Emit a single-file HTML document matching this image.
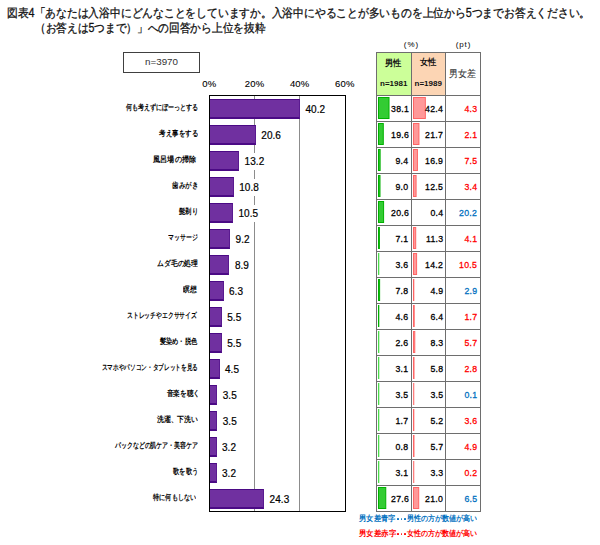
<!DOCTYPE html><html><head><meta charset="utf-8"><style>
*{margin:0;padding:0;box-sizing:border-box}
html,body{width:600px;height:545px;background:#fff;overflow:hidden;position:relative;font-family:"Liberation Sans",sans-serif}
.a{position:absolute;white-space:nowrap}
.fit{position:absolute;white-space:nowrap}
.ttl{font-size:12px;color:#111;line-height:14px;-webkit-text-stroke:0.3px #111}
.lbl{font-size:7.5px;font-weight:bold;color:#000;line-height:10px}
.val{font-size:10px;color:#000;line-height:17px;height:17px;background:#fff;padding:0 2px;letter-spacing:0.05px;-webkit-text-stroke:0.2px #000}
.ax{font-size:9.5px;color:#000;line-height:12px;-webkit-text-stroke:0.1px #000;letter-spacing:0.2px;text-indent:0.2px}
.bar{position:absolute;background:#7030a0;border-top:1px solid #4b0a85;border-bottom:2px solid #4b0a85;border-right:1px solid #5a1a90}
.grid{position:absolute;top:96px;height:415px;width:1px;background:#8c8c8c}
.tv{font-size:9.7px;color:#000;line-height:12px;text-align:right;letter-spacing:0.3px;margin-right:-0.3px;-webkit-text-stroke:0.3px currentColor;transform:scaleX(0.9);transform-origin:100% 50%}
.hl{position:absolute;background:#6e6e6e}
.gb{position:absolute;background:#33cc33;border:1px solid #00b400}
.pb{position:absolute;background:#ff9999;border:1px solid #ff6666}
.hd{font-size:8.5px;font-weight:bold;line-height:10px;color:#111}
.lg{font-size:8px;font-weight:bold;line-height:10px}
</style></head><body>
<div class="fit ttl" style="left:6.80px;top:6.30px;">図表4「あなたは入浴中にどんなことをしていますか。入浴中にやることが多いものを上位から5つまでお答えください。</div>
<div class="fit ttl" style="left:35.10px;top:21.40px;">（お答えは5つまで）」への回答から上位を抜粋</div>
<div class="a bgx" style="left:123px;top:52px;width:77px;height:21px;border:1px solid #404040"></div>
<div class="a" style="left:123px;top:55.5px;width:77px;text-align:center;font-size:9.8px;color:#333;line-height:12px">n=3970</div>
<div class="grid" style="left:253.9px"></div>
<div class="grid" style="left:299.1px"></div>
<div class="a ax" style="left:189.3px;top:77.5px;width:40px;text-align:center">0%</div>
<div class="a ax" style="left:234.4px;top:77.5px;width:40px;text-align:center">20%</div>
<div class="a ax" style="left:279.6px;top:77.5px;width:40px;text-align:center">40%</div>
<div class="a ax" style="left:324.7px;top:77.5px;width:40px;text-align:center">60%</div>
<div class="a bgx" style="left:208.5px;top:95px;width:137px;height:417px;border:1.5px solid #000"></div>
<div class="bar" style="left:209.5px;top:99.0px;width:90.5px;height:20px"></div>
<div class="a val" style="left:303.5px;top:101.0px">40.2</div>
<div class="fit lbl" style="right:402.50px;top:103.30px;">何も考えずにぼーっとする</div>
<div class="bar" style="left:209.5px;top:125.0px;width:46.3px;height:20px"></div>
<div class="a val" style="left:259.3px;top:127.0px">20.6</div>
<div class="fit lbl" style="right:402.50px;top:129.30px;">考え事をする</div>
<div class="bar" style="left:209.5px;top:151.0px;width:29.6px;height:20px"></div>
<div class="a val" style="left:242.6px;top:153.0px">13.2</div>
<div class="fit lbl" style="right:403.70px;top:155.30px;">風呂場の掃除</div>
<div class="bar" style="left:209.5px;top:177.0px;width:24.2px;height:20px"></div>
<div class="a val" style="left:237.2px;top:179.0px">10.8</div>
<div class="fit lbl" style="right:402.50px;top:181.30px;">歯みがき</div>
<div class="bar" style="left:209.5px;top:203.0px;width:23.5px;height:20px"></div>
<div class="a val" style="left:236.5px;top:205.0px">10.5</div>
<div class="fit lbl" style="right:402.30px;top:207.30px;">髭剃り</div>
<div class="bar" style="left:209.5px;top:229.0px;width:20.6px;height:20px"></div>
<div class="a val" style="left:233.6px;top:231.0px">9.2</div>
<div class="fit lbl" style="right:402.50px;top:233.00px;">マッサージ</div>
<div class="bar" style="left:209.5px;top:255.0px;width:19.9px;height:20px"></div>
<div class="a val" style="left:232.9px;top:257.0px">8.9</div>
<div class="fit lbl" style="right:402.50px;top:259.30px;">ムダ毛の処理</div>
<div class="bar" style="left:209.5px;top:281.0px;width:14.0px;height:20px"></div>
<div class="a val" style="left:227.0px;top:283.0px">6.3</div>
<div class="fit lbl" style="right:403.10px;top:285.30px;">瞑想</div>
<div class="bar" style="left:209.5px;top:307.0px;width:12.2px;height:20px"></div>
<div class="a val" style="left:225.2px;top:309.0px">5.5</div>
<div class="fit lbl" style="right:403.10px;top:311.30px;">ストレッチやエクササイズ</div>
<div class="bar" style="left:209.5px;top:333.0px;width:12.2px;height:20px"></div>
<div class="a val" style="left:225.2px;top:335.0px">5.5</div>
<div class="fit lbl" style="right:403.50px;top:337.30px;">髪染め・脱色</div>
<div class="bar" style="left:209.5px;top:359.0px;width:10.0px;height:20px"></div>
<div class="a val" style="left:223.0px;top:361.0px">4.5</div>
<div class="fit lbl" style="right:402.50px;top:363.30px;">スマホやパソコン・タブレットを見る</div>
<div class="bar" style="left:209.5px;top:385.0px;width:7.7px;height:20px"></div>
<div class="a val" style="left:220.7px;top:387.0px">3.5</div>
<div class="fit lbl" style="right:400.50px;top:389.30px;">音楽を聴く</div>
<div class="bar" style="left:209.5px;top:411.0px;width:7.7px;height:20px"></div>
<div class="a val" style="left:220.7px;top:413.0px">3.5</div>
<div class="fit lbl" style="right:402.50px;top:415.30px;">洗濯、下洗い</div>
<div class="bar" style="left:209.5px;top:437.0px;width:7.0px;height:20px"></div>
<div class="a val" style="left:220.0px;top:439.0px">3.2</div>
<div class="fit lbl" style="right:402.50px;top:441.30px;">パックなどの肌ケア・美容ケア</div>
<div class="bar" style="left:209.5px;top:463.0px;width:7.0px;height:20px"></div>
<div class="a val" style="left:220.0px;top:465.0px">3.2</div>
<div class="fit lbl" style="right:402.10px;top:467.30px;">歌を歌う</div>
<div class="bar" style="left:209.5px;top:489.0px;width:54.6px;height:20px"></div>
<div class="a val" style="left:267.6px;top:491.0px">24.3</div>
<div class="fit lbl" style="right:403.70px;top:493.30px;">特に何もしない</div>
<div class="a bgx" style="left:376.5px;top:52.5px;width:35.0px;height:42.5px;background:#ccff99"></div>
<div class="a bgx" style="left:411.5px;top:52.5px;width:34.0px;height:42.5px;background:#fcd5b4"></div>
<div class="hl" style="left:376.0px;top:52.0px;width:1.3px;height:459.5px"></div>
<div class="hl" style="left:411.0px;top:52.0px;width:1.3px;height:459.5px"></div>
<div class="hl" style="left:445.0px;top:52.0px;width:1.3px;height:459.5px"></div>
<div class="hl" style="left:479.5px;top:52.0px;width:1.3px;height:459.5px"></div>
<div class="hl" style="left:376.0px;top:52.0px;width:104.8px;height:1.3px"></div>
<div class="hl" style="left:376.0px;top:94.5px;width:104.8px;height:1.3px"></div>
<div class="hl" style="left:376.0px;top:120.5px;width:104.8px;height:1.3px"></div>
<div class="hl" style="left:376.0px;top:146.5px;width:104.8px;height:1.3px"></div>
<div class="hl" style="left:376.0px;top:172.5px;width:104.8px;height:1.3px"></div>
<div class="hl" style="left:376.0px;top:198.5px;width:104.8px;height:1.3px"></div>
<div class="hl" style="left:376.0px;top:224.5px;width:104.8px;height:1.3px"></div>
<div class="hl" style="left:376.0px;top:250.5px;width:104.8px;height:1.3px"></div>
<div class="hl" style="left:376.0px;top:276.5px;width:104.8px;height:1.3px"></div>
<div class="hl" style="left:376.0px;top:302.5px;width:104.8px;height:1.3px"></div>
<div class="hl" style="left:376.0px;top:328.5px;width:104.8px;height:1.3px"></div>
<div class="hl" style="left:376.0px;top:354.5px;width:104.8px;height:1.3px"></div>
<div class="hl" style="left:376.0px;top:380.5px;width:104.8px;height:1.3px"></div>
<div class="hl" style="left:376.0px;top:406.5px;width:104.8px;height:1.3px"></div>
<div class="hl" style="left:376.0px;top:432.5px;width:104.8px;height:1.3px"></div>
<div class="hl" style="left:376.0px;top:458.5px;width:104.8px;height:1.3px"></div>
<div class="hl" style="left:376.0px;top:484.5px;width:104.8px;height:1.3px"></div>
<div class="hl" style="left:376.0px;top:510.5px;width:104.8px;height:1.3px"></div>
<div class="a" style="left:396px;top:40.3px;width:30px;text-align:center;font-size:8px;line-height:10px;color:#111;letter-spacing:0.9px;text-indent:0.9px;-webkit-text-stroke:0.05px #111">(%)</div>
<div class="a" style="left:448px;top:40.3px;width:30px;text-align:center;font-size:8px;line-height:10px;color:#111;letter-spacing:0.9px;text-indent:0.9px;-webkit-text-stroke:0.05px #111">(pt)</div>
<div class="fit hd" style="left:385.48px;top:58.30px;">男性</div>
<div class="fit hd" style="left:419.72px;top:57.28px;">女性</div>
<div class="a" style="left:380px;top:79px;font-size:8px;font-weight:bold;line-height:10px;color:#111">n=1981</div>
<div class="a" style="left:414.5px;top:79px;font-size:8px;font-weight:bold;line-height:10px;color:#111">n=1989</div>
<div class="fit " style="left:449.28px;top:68.00px;font-size:9.5px;line-height:11px;color:#3a3a3a;-webkit-text-stroke:0.15px #3a3a3a">男女差</div>
<svg class="tb" style="position:absolute;left:0;top:0" width="600" height="545"><rect x="378.5" y="97.5" width="10.51" height="21" fill="#33cc33" stroke="#00b000" stroke-width="1"/><rect x="413.5" y="97.5" width="11.84" height="21" fill="#ff9999" stroke="#ff6666" stroke-width="1"/><rect x="378.5" y="123.5" width="4.78" height="21" fill="#33cc33" stroke="#00b000" stroke-width="1"/><rect x="413.5" y="123.5" width="5.43" height="21" fill="#ff9999" stroke="#ff6666" stroke-width="1"/><rect x="378.5" y="149.5" width="1.61" height="21" fill="#33cc33" stroke="#00b000" stroke-width="1"/><rect x="413.5" y="149.5" width="3.94" height="21" fill="#ff9999" stroke="#ff6666" stroke-width="1"/><rect x="378.5" y="175.5" width="1.49" height="21" fill="#33cc33" stroke="#00b000" stroke-width="1"/><rect x="413.5" y="175.5" width="2.58" height="21" fill="#ff9999" stroke="#ff6666" stroke-width="1"/><rect x="378.5" y="201.5" width="5.09" height="21" fill="#33cc33" stroke="#00b000" stroke-width="1"/><rect x="378.5" y="227.5" width="0.90" height="21" fill="#33cc33" stroke="#00b000" stroke-width="1"/><rect x="413.5" y="227.5" width="2.20" height="21" fill="#ff9999" stroke="#ff6666" stroke-width="1"/><rect x="378.5" y="253.5" width="0.30" height="21" fill="#33cc33" stroke="#4cdc4c" stroke-width="1"/><rect x="413.5" y="253.5" width="3.10" height="21" fill="#ff9999" stroke="#ff6666" stroke-width="1"/><rect x="378.5" y="279.5" width="1.12" height="21" fill="#33cc33" stroke="#00b000" stroke-width="1"/><rect x="413.5" y="279.5" width="0.30" height="21" fill="#ff9999" stroke="#ff6666" stroke-width="1"/><rect x="378.5" y="305.5" width="0.30" height="21" fill="#33cc33" stroke="#00b000" stroke-width="1"/><rect x="413.5" y="305.5" width="0.68" height="21" fill="#ff9999" stroke="#ff6666" stroke-width="1"/><rect x="378.5" y="331.5" width="0.30" height="21" fill="#33cc33" stroke="#4cdc4c" stroke-width="1"/><rect x="413.5" y="331.5" width="1.27" height="21" fill="#ff9999" stroke="#ff6666" stroke-width="1"/><rect x="378.5" y="357.5" width="0.30" height="21" fill="#33cc33" stroke="#4cdc4c" stroke-width="1"/><rect x="413.5" y="357.5" width="0.50" height="21" fill="#ff9999" stroke="#ff6666" stroke-width="1"/><rect x="378.5" y="383.5" width="0.30" height="21" fill="#33cc33" stroke="#4cdc4c" stroke-width="1"/><rect x="413.5" y="383.5" width="0.30" height="21" fill="#ff9999" stroke="#ff8080" stroke-width="1"/><rect x="378.5" y="409.5" width="0.30" height="21" fill="#33cc33" stroke="#4cdc4c" stroke-width="1"/><rect x="413.5" y="409.5" width="0.31" height="21" fill="#ff9999" stroke="#ff6666" stroke-width="1"/><rect x="378.5" y="435.5" width="0.30" height="21" fill="#33cc33" stroke="#4cdc4c" stroke-width="1"/><rect x="413.5" y="435.5" width="0.47" height="21" fill="#ff9999" stroke="#ff6666" stroke-width="1"/><rect x="378.5" y="461.5" width="0.30" height="21" fill="#33cc33" stroke="#4cdc4c" stroke-width="1"/><rect x="413.5" y="461.5" width="0.30" height="21" fill="#ff9999" stroke="#ff8080" stroke-width="1"/><rect x="378.5" y="487.5" width="7.26" height="21" fill="#33cc33" stroke="#00b000" stroke-width="1"/><rect x="413.5" y="487.5" width="5.21" height="21" fill="#ff9999" stroke="#ff6666" stroke-width="1"/></svg>
<div class="a tv" style="right:191.7px;top:102.8px">38.1</div>
<div class="a tv" style="right:157.39999999999998px;top:102.8px">42.4</div>
<div class="a tv" style="right:123.30000000000001px;top:102.8px;color:#ff0000">4.3</div>
<div class="a tv" style="right:191.7px;top:128.8px">19.6</div>
<div class="a tv" style="right:157.39999999999998px;top:128.8px">21.7</div>
<div class="a tv" style="right:123.30000000000001px;top:128.8px;color:#ff0000">2.1</div>
<div class="a tv" style="right:191.7px;top:154.8px">9.4</div>
<div class="a tv" style="right:157.39999999999998px;top:154.8px">16.9</div>
<div class="a tv" style="right:123.30000000000001px;top:154.8px;color:#ff0000">7.5</div>
<div class="a tv" style="right:191.7px;top:180.8px">9.0</div>
<div class="a tv" style="right:157.39999999999998px;top:180.8px">12.5</div>
<div class="a tv" style="right:123.30000000000001px;top:180.8px;color:#ff0000">3.4</div>
<div class="a tv" style="right:191.7px;top:206.8px">20.6</div>
<div class="a tv" style="right:157.39999999999998px;top:206.8px">0.4</div>
<div class="a tv" style="right:123.30000000000001px;top:206.8px;color:#0070c0">20.2</div>
<div class="a tv" style="right:191.7px;top:232.8px">7.1</div>
<div class="a tv" style="right:157.39999999999998px;top:232.8px">11.3</div>
<div class="a tv" style="right:123.30000000000001px;top:232.8px;color:#ff0000">4.1</div>
<div class="a tv" style="right:191.7px;top:258.8px">3.6</div>
<div class="a tv" style="right:157.39999999999998px;top:258.8px">14.2</div>
<div class="a tv" style="right:123.30000000000001px;top:258.8px;color:#ff0000">10.5</div>
<div class="a tv" style="right:191.7px;top:284.8px">7.8</div>
<div class="a tv" style="right:157.39999999999998px;top:284.8px">4.9</div>
<div class="a tv" style="right:123.30000000000001px;top:284.8px;color:#0070c0">2.9</div>
<div class="a tv" style="right:191.7px;top:310.8px">4.6</div>
<div class="a tv" style="right:157.39999999999998px;top:310.8px">6.4</div>
<div class="a tv" style="right:123.30000000000001px;top:310.8px;color:#ff0000">1.7</div>
<div class="a tv" style="right:191.7px;top:336.8px">2.6</div>
<div class="a tv" style="right:157.39999999999998px;top:336.8px">8.3</div>
<div class="a tv" style="right:123.30000000000001px;top:336.8px;color:#ff0000">5.7</div>
<div class="a tv" style="right:191.7px;top:362.8px">3.1</div>
<div class="a tv" style="right:157.39999999999998px;top:362.8px">5.8</div>
<div class="a tv" style="right:123.30000000000001px;top:362.8px;color:#ff0000">2.8</div>
<div class="a tv" style="right:191.7px;top:388.8px">3.5</div>
<div class="a tv" style="right:157.39999999999998px;top:388.8px">3.5</div>
<div class="a tv" style="right:123.30000000000001px;top:388.8px;color:#0070c0">0.1</div>
<div class="a tv" style="right:191.7px;top:414.8px">1.7</div>
<div class="a tv" style="right:157.39999999999998px;top:414.8px">5.2</div>
<div class="a tv" style="right:123.30000000000001px;top:414.8px;color:#ff0000">3.6</div>
<div class="a tv" style="right:191.7px;top:440.8px">0.8</div>
<div class="a tv" style="right:157.39999999999998px;top:440.8px">5.7</div>
<div class="a tv" style="right:123.30000000000001px;top:440.8px;color:#ff0000">4.9</div>
<div class="a tv" style="right:191.7px;top:466.8px">3.1</div>
<div class="a tv" style="right:157.39999999999998px;top:466.8px">3.3</div>
<div class="a tv" style="right:123.30000000000001px;top:466.8px;color:#ff0000">0.2</div>
<div class="a tv" style="right:191.7px;top:492.8px">27.6</div>
<div class="a tv" style="right:157.39999999999998px;top:492.8px">21.0</div>
<div class="a tv" style="right:123.30000000000001px;top:492.8px;color:#0070c0">6.5</div>
<div class="fit lg" style="left:359.44px;top:514.31px;color:#0070c0">男女差青字</div>
<div class="a" style="left:396.9px;top:518.0px;width:1.7px;height:1.7px;border-radius:0.4px;background:#0070c0"></div>
<div class="a" style="left:400.5px;top:518.0px;width:1.7px;height:1.7px;border-radius:0.4px;background:#0070c0"></div>
<div class="a" style="left:404.2px;top:518.0px;width:1.7px;height:1.7px;border-radius:0.4px;background:#0070c0"></div>
<div class="fit lg" style="left:407.46px;top:514.31px;color:#0070c0">男性の方が数値が高い</div>
<div class="fit lg" style="left:359.44px;top:528.56px;color:#ff0000">男女差赤字</div>
<div class="a" style="left:396.9px;top:532.9px;width:1.7px;height:1.7px;border-radius:0.4px;background:#ff0000"></div>
<div class="a" style="left:400.5px;top:532.9px;width:1.7px;height:1.7px;border-radius:0.4px;background:#ff0000"></div>
<div class="a" style="left:404.2px;top:532.9px;width:1.7px;height:1.7px;border-radius:0.4px;background:#ff0000"></div>
<div class="fit lg" style="left:407.46px;top:528.56px;color:#ff0000">女性の方が数値が高い</div>
<script>
(function(){
var W=[583.268, 230.249, 72.461, 38.572, 42.866, 25.7, 18.945, 29.513, 40.804, 13.716, 70.068, 37.222, 96.427, 33.32, 41.228, 83.2, 24.718, 42.709, 16.473, 16.565, 26.563, 36.319, 70.0, 37.124, 70.0];
var els=document.querySelectorAll('.fit');
for(var i=0;i<els.length;i++){
  var e=els[i];
  var nw=e.getBoundingClientRect().width;
  var w=W[i];
  if(nw>0&&w>0){
    e.style.transformOrigin=(e.style.right?'100% 50%':'0 50%');
    e.style.transform='scaleX('+(w/nw)+')';
  }
}
})();
</script>
</body></html>
